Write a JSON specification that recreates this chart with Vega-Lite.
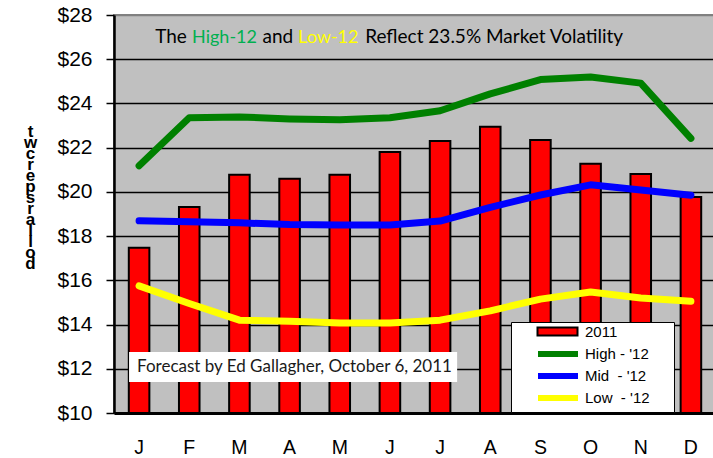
{
  "$schema": "https://vega.github.io/schema/vega-lite/v6.json",
  "width": 602,
  "height": 398,
  "autosize": {"type": "none"},
  "padding": {"left": 114, "top": 15, "right": 0, "bottom": 45},
  "background": "white",
  "config": {
    "view": {"fill": "#C0C0C0", "stroke": "#808080", "strokeWidth": 2},
    "font": "Liberation Sans"
  },
  "datasets": {
    "bars": [
      {"month": "Jan", "series": "2011", "value": 17.47},
      {"month": "Feb", "series": "2011", "value": 19.32},
      {"month": "Mar", "series": "2011", "value": 20.77},
      {"month": "Apr", "series": "2011", "value": 20.59},
      {"month": "May", "series": "2011", "value": 20.77},
      {"month": "Jun", "series": "2011", "value": 21.8},
      {"month": "Jul", "series": "2011", "value": 22.3},
      {"month": "Aug", "series": "2011", "value": 22.95},
      {"month": "Sep", "series": "2011", "value": 22.35},
      {"month": "Oct", "series": "2011", "value": 21.27},
      {"month": "Nov", "series": "2011", "value": 20.81},
      {"month": "Dec", "series": "2011", "value": 19.77}
    ],
    "lines": [
      {"month": "Jan", "series": "High - '12", "value": 21.18},
      {"month": "Feb", "series": "High - '12", "value": 23.35},
      {"month": "Mar", "series": "High - '12", "value": 23.39},
      {"month": "Apr", "series": "High - '12", "value": 23.3},
      {"month": "May", "series": "High - '12", "value": 23.26},
      {"month": "Jun", "series": "High - '12", "value": 23.35},
      {"month": "Jul", "series": "High - '12", "value": 23.67},
      {"month": "Aug", "series": "High - '12", "value": 24.43},
      {"month": "Sep", "series": "High - '12", "value": 25.08},
      {"month": "Oct", "series": "High - '12", "value": 25.2},
      {"month": "Nov", "series": "High - '12", "value": 24.92},
      {"month": "Dec", "series": "High - '12", "value": 22.42},
      {"month": "Jan", "series": "Mid\u00a0 - '12", "value": 18.69},
      {"month": "Feb", "series": "Mid\u00a0 - '12", "value": 18.65},
      {"month": "Mar", "series": "Mid\u00a0 - '12", "value": 18.6},
      {"month": "Apr", "series": "Mid\u00a0 - '12", "value": 18.52},
      {"month": "May", "series": "Mid\u00a0 - '12", "value": 18.5},
      {"month": "Jun", "series": "Mid\u00a0 - '12", "value": 18.5},
      {"month": "Jul", "series": "Mid\u00a0 - '12", "value": 18.68},
      {"month": "Aug", "series": "Mid\u00a0 - '12", "value": 19.3},
      {"month": "Sep", "series": "Mid\u00a0 - '12", "value": 19.86},
      {"month": "Oct", "series": "Mid\u00a0 - '12", "value": 20.32},
      {"month": "Nov", "series": "Mid\u00a0 - '12", "value": 20.09},
      {"month": "Dec", "series": "Mid\u00a0 - '12", "value": 19.85},
      {"month": "Jan", "series": "Low\u00a0 - '12", "value": 15.75},
      {"month": "Feb", "series": "Low\u00a0 - '12", "value": 14.95},
      {"month": "Mar", "series": "Low\u00a0 - '12", "value": 14.2},
      {"month": "Apr", "series": "Low\u00a0 - '12", "value": 14.15},
      {"month": "May", "series": "Low\u00a0 - '12", "value": 14.07},
      {"month": "Jun", "series": "Low\u00a0 - '12", "value": 14.07},
      {"month": "Jul", "series": "Low\u00a0 - '12", "value": 14.2},
      {"month": "Aug", "series": "Low\u00a0 - '12", "value": 14.62},
      {"month": "Sep", "series": "Low\u00a0 - '12", "value": 15.15},
      {"month": "Oct", "series": "Low\u00a0 - '12", "value": 15.47},
      {"month": "Nov", "series": "Low\u00a0 - '12", "value": 15.2},
      {"month": "Dec", "series": "Low\u00a0 - '12", "value": 15.05}
    ]
  },
  "resolve": {"scale": {"x": "independent"}},
  "layer": [
    {
      "layer": [
        {
          "data": {"name": "bars"},
          "mark": {"type": "bar", "stroke": "black", "strokeWidth": 2},
          "encoding": {
            "x": {
              "field": "month", "type": "nominal",
              "sort": ["Jan","Feb","Mar","Apr","May","Jun","Jul","Aug","Sep","Oct","Nov","Dec"],
              "scale": {"paddingInner": 0.59, "paddingOuter": 0.295},
              "axis": {
                "title": null, "labelAngle": 0, "ticks": false,
                "labelExpr": "substring(datum.label,0,1)",
                "labelPadding": 25, "labelFontSize": 19.5, "labelColor": "black",
                "labelFont": "Liberation Sans",
                "domainColor": "black", "domainWidth": 3
              }
            },
            "y": {
              "field": "value", "type": "quantitative",
              "scale": {"domain": [10, 28], "zero": false, "nice": false},
              "axis": {
                "values": [10,12,14,16,18,20,22,24,26,28],
                "format": "$.0f",
                "labelFontSize": 21, "labelColor": "black", "labelFont": "Liberation Sans",
                "labelPadding": 14, "tickSize": 8, "tickColor": "black", "tickWidth": 1.5,
                "domainColor": "black", "domainWidth": 2.5,
                "grid": true,
                "gridColor": {"condition": {"test": "datum.value == 28", "value": "#808080"}, "value": "black"},
                "gridWidth": 1.5,
                "title": ["t","w","c","r","e","p","s","r","a","l","l","o","d"],
                "titleAngle": 0, "titleAlign": "center", "titleBaseline": "top",
                "titleX": -84, "titleY": 108,
                "titleFontSize": 17, "titleFontWeight": "bold", "titleLineHeight": 11,
                "titleFont": "Liberation Sans", "titleColor": "black"
              }
            },
            "y2": {"datum": 10},
            "fill": {
              "field": "series", "type": "nominal",
              "scale": {"domain": ["2011"], "range": ["#FF0000"]},
              "legend": {
                "orient": "none", "legendX": 397, "legendY": 307, "zindex": 2,
                "title": "\u00a0", "titleOrient": "left", "titlePadding": 37, "titleFontSize": 10,
                "fillColor": "transparent", "strokeColor": "transparent",
                "padding": 2,
                "symbolType": "M-4,-0.8H4V0.8H-4Z",
                "symbolSize": 100, "symbolStrokeWidth": 2, "symbolStrokeColor": "black",
                "symbolOpacity": 1,
                "labelOffset": 19, "labelFontSize": 15, "labelExpr": "''"
              }
            }
          }
        },
        {
          "data": {"name": "lines"},
          "mark": {"type": "line", "strokeWidth": 7, "strokeCap": "round", "strokeJoin": "round"},
          "encoding": {
            "x": {"field": "month", "type": "nominal", "sort": ["Jan","Feb","Mar","Apr","May","Jun","Jul","Aug","Sep","Oct","Nov","Dec"]},
            "y": {"field": "value", "type": "quantitative"},
            "stroke": {
              "field": "series", "type": "nominal",
              "scale": {
                "domain": ["2011", "High - '12", "Mid\u00a0 - '12", "Low\u00a0 - '12"],
                "range": ["transparent", "#008000", "#0000FF", "#FFFF00"]
              },
              "legend": {
                "orient": "none", "legendX": 397, "legendY": 307, "zindex": 1,
                "title": "\u00a0", "titleOrient": "left", "titlePadding": 37, "titleFontSize": 10,
                "fillColor": "white", "strokeColor": "black",
                "padding": 2,
                "symbolType": "M-4,0H4",
                "symbolSize": 100, "symbolStrokeWidth": 6, "symbolOpacity": 1,
                "rowPadding": -2, "labelOffset": 19,
                "labelFontSize": 15, "labelFont": "Liberation Sans", "labelColor": "black",
                "labelExpr": "datum.label + '\u2800\u2800'"
              }
            }
          }
        }
      ]
    },
    {
      "data": {"values": [{}]},
      "layer": [
        {
          "mark": {"type": "rect", "fill": "white"},
          "encoding": {
            "x": {"datum": 0.30, "type": "quantitative", "scale": {"domain": [0, 12]}, "axis": null},
            "x2": {"datum": 6.84},
            "y": {"datum": 12.76, "type": "quantitative"},
            "y2": {"datum": 11.40}
          }
        },
        {
          "mark": {"type": "text", "text": "Forecast by Ed Gallagher, October 6, 2011", "align": "left", "baseline": "middle", "font": "Lato", "fontSize": 17, "color": "#1a1a1a"},
          "encoding": {
            "x": {"datum": 0.46, "type": "quantitative"},
            "y": {"datum": 12.08, "type": "quantitative"}
          }
        },
        {
          "mark": {"type": "text", "text": "The", "align": "left", "baseline": "alphabetic", "font": "Lato", "fontSize": 19, "color": "black"},
          "encoding": {"x": {"datum": 0.82, "type": "quantitative"}, "y": {"datum": 26.74, "type": "quantitative"}}
        },
        {
          "mark": {"type": "text", "text": "High-12", "align": "left", "baseline": "alphabetic", "font": "Lato", "fontSize": 18, "color": "#00B050"},
          "encoding": {"x": {"datum": 1.556, "type": "quantitative"}, "y": {"datum": 26.74, "type": "quantitative"}}
        },
        {
          "mark": {"type": "text", "text": "and", "align": "left", "baseline": "alphabetic", "font": "Lato", "fontSize": 19, "color": "black"},
          "encoding": {"x": {"datum": 2.96, "type": "quantitative"}, "y": {"datum": 26.74, "type": "quantitative"}}
        },
        {
          "mark": {"type": "text", "text": "Low-12", "align": "left", "baseline": "alphabetic", "font": "Lato", "fontSize": 18, "color": "#FFFF00"},
          "encoding": {"x": {"datum": 3.67, "type": "quantitative"}, "y": {"datum": 26.74, "type": "quantitative"}}
        },
        {
          "mark": {"type": "text", "text": "Reflect 23.5% Market Volatility", "align": "left", "baseline": "alphabetic", "font": "Lato", "fontSize": 19, "color": "black"},
          "encoding": {"x": {"datum": 5.006, "type": "quantitative"}, "y": {"datum": 26.74, "type": "quantitative"}}
        }
      ]
    }
  ]
}
